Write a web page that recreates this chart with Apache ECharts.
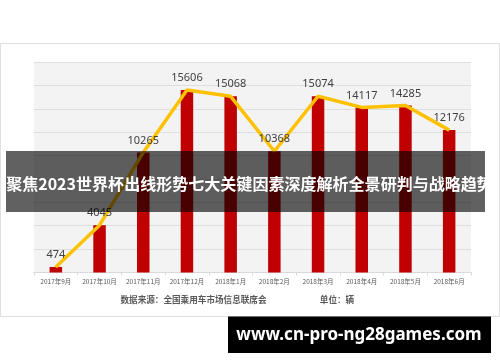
<!DOCTYPE html>
<html>
<head>
<meta charset="utf-8">
<script src="https://cdn.jsdelivr.net/npm/echarts@6/dist/echarts.min.js"></script>
<style>
html,body{margin:0;padding:0;background:#fff;}
#chart{width:500px;height:362px;}
</style>
</head>
<body>
<div id="chart"></div>
<script>
const categories = ['2017年9月','2017年10月','2017年11月','2017年12月','2018年1月','2018年2月','2018年3月','2018年4月','2018年5月','2018年6月'];
const barValues = [474, 4045, 10265, 15606, 15068, 10368, 15074, 14117, 14285, 12176];
const lineValues = [474, 4045, 10265, 15606, 15068, 10368, 15074, 14117, 14285, 12176];
const yMin = 0, yMax = 18000, yInterval = 2000;
const bannerText = '聚焦2023世界杯出线形势七大关键因素深度解析全景研判与战略趋势';
const sourceText = '数据来源：全国乘用车市场信息联席会';
const unitText = '单位：辆';
const siteText = 'www.cn-pro-ng28games.com';

const cjk = '"Noto Sans CJK SC", "Noto Sans", sans-serif';
// fit banner text to the width seen in the reference (~487px)
const ctx = document.createElement('canvas').getContext('2d');
ctx.font = 'bold 18px ' + cjk;
const w18 = ctx.measureText(bannerText).width;
const bannerSize = Math.min(18, 18 * 487 / w18);

const chart = echarts.init(document.getElementById('chart'), null, {renderer:'canvas'});
chart.setOption({
  backgroundColor: '#ffffff',
  animation: false,
  grid: {left: 34, right: 29, top: 62, bottom: 89.5, show: true, backgroundColor: '#f3f3f3', borderWidth: 0},
  xAxis: {
    type: 'category', data: categories, boundaryGap: true,
    axisLine: {lineStyle: {color: '#d9d9d9', width: 1}},
    axisTick: {show: true, length: 3, lineStyle: {color: '#d9d9d9'}},
    axisLabel: {color: '#595959', fontSize: 6.5, margin: 6, fontFamily: cjk, interval: 0}
  },
  yAxis: {
    type: 'value', min: yMin, max: yMax, interval: yInterval,
    axisLabel: {show: false}, axisLine: {show: false}, axisTick: {show: false},
    splitLine: {lineStyle: {color: '#dedede', width: 1}}
  },
  series: [
    {type: 'bar', data: barValues, barWidth: 12.5, itemStyle: {color: '#c00000'}, z: 2},
    {type: 'line', data: lineValues, symbol: 'circle', symbolSize: 1, z: 3,
     lineStyle: {color: '#ffc000', width: 3.5}, itemStyle: {color: '#ffc000'},
     label: {show: true, position: 'top', distance: 6, color: '#404040', fontSize: 11, fontFamily: '"Noto Sans", sans-serif'}}
  ],
  graphic: [
    {type: 'rect', shape: {x: 0.5, y: 43.5, width: 499, height: 273}, style: {fill: 'none', stroke: '#e0e0e0', lineWidth: 1}, z: 1},
    {type: 'text', x: 193.5, y: 300, style: {text: sourceText, fill: '#595959', font: 'bold 8.6px ' + cjk, textAlign: 'center', textVerticalAlign: 'middle'}, z: 5},
    {type: 'text', x: 337, y: 300, style: {text: unitText, fill: '#595959', font: 'bold 8.6px ' + cjk, textAlign: 'center', textVerticalAlign: 'middle'}, z: 5},
    {type: 'rect', shape: {x: 6, y: 151, width: 479, height: 61}, style: {fill: 'rgba(0,0,0,0.62)'}, z: 100},
    {type: 'text', x: 249.5, y: 184, style: {text: bannerText, fill: '#ffffff', font: 'bold ' + bannerSize + 'px ' + cjk, textAlign: 'center', textVerticalAlign: 'middle'}, z: 101},
    {type: 'rect', shape: {x: 228, y: 316.5, width: 263, height: 36.5}, style: {fill: '#000000'}, z: 100},
    {type: 'text', x: 359, y: 335, style: {text: siteText, fill: '#ffffff', font: 'bold 17px "Noto Sans", sans-serif', textAlign: 'center', textVerticalAlign: 'middle'}, z: 101}
  ]
});
</script>
</body>
</html>
